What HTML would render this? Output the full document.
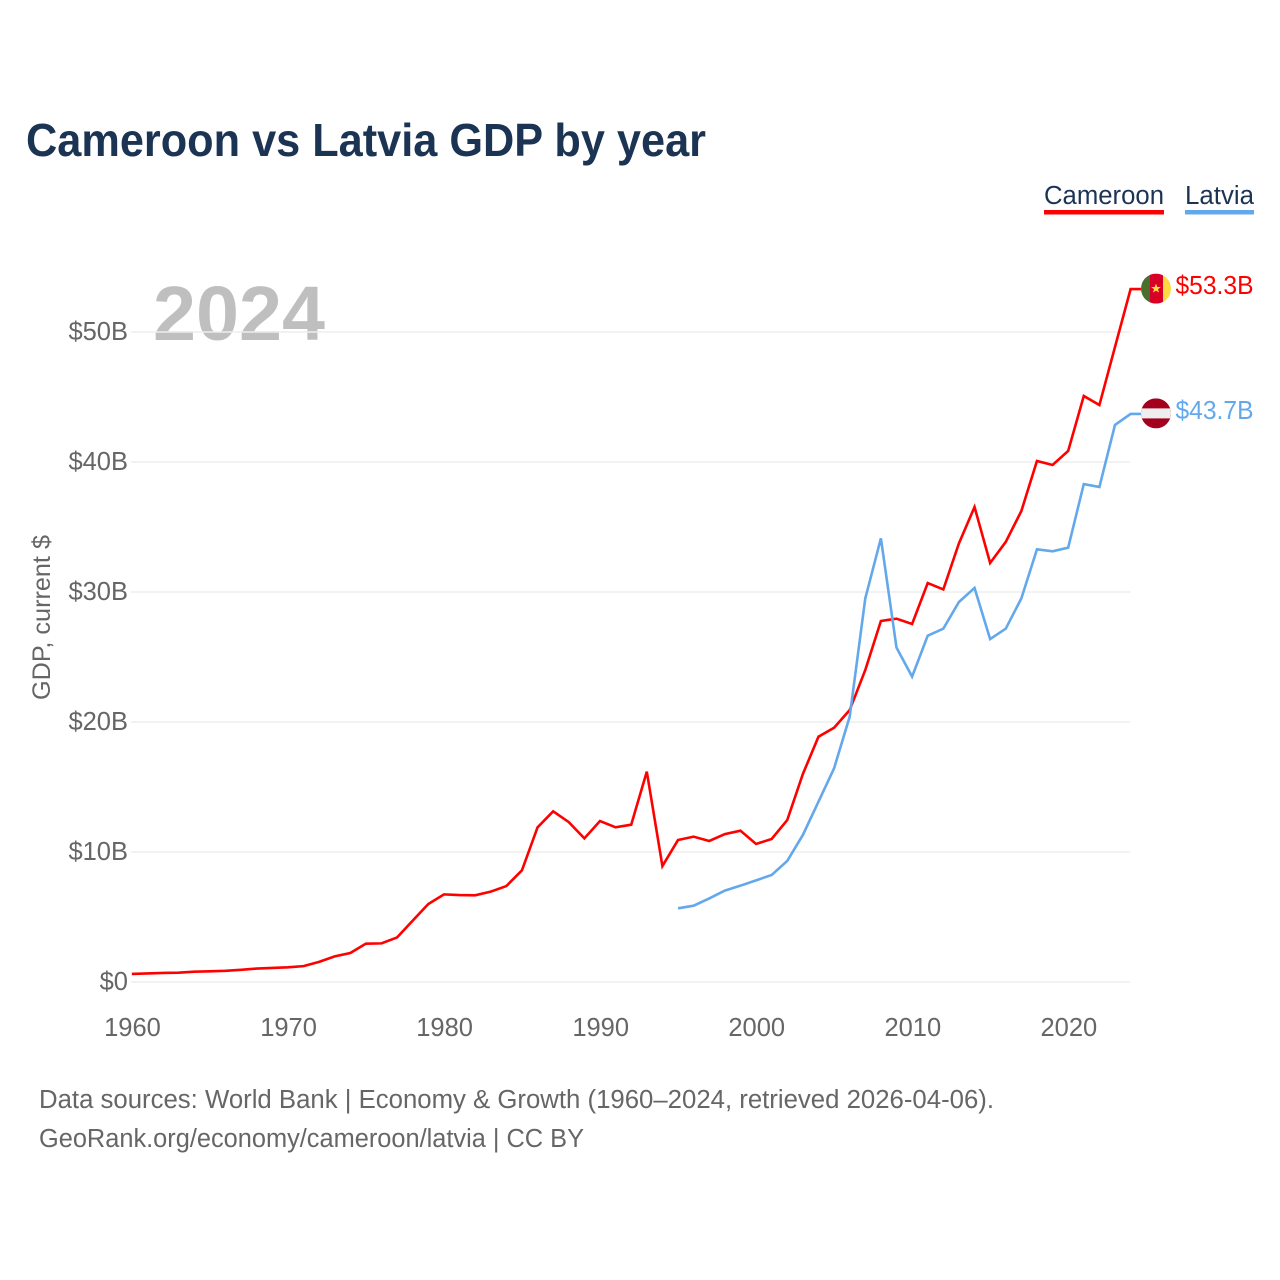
<!DOCTYPE html>
<html lang="en">
<head>
<meta charset="utf-8">
<title>Cameroon vs Latvia GDP by year</title>
<style>
  html, body { margin: 0; padding: 0; background: #fff; }
  svg { display: block; font-family: "Liberation Sans", sans-serif; }
</style>
</head>
<body>
<svg id="chart" xmlns="http://www.w3.org/2000/svg" width="1280" height="1280" viewBox="0 0 1280 1280">
  <rect x="0" y="0" width="1280" height="1280" fill="#fff"/>
  <text x="26" y="156" font-size="46" font-weight="700" fill="#1c3454" textLength="680" lengthAdjust="spacingAndGlyphs">Cameroon vs Latvia GDP by year</text>

  <g>
    <g>
      <text x="1044" y="204" font-size="25.5" fill="#1c3454" textLength="120" lengthAdjust="spacingAndGlyphs">Cameroon</text>
      <rect x="1044" y="210" width="120" height="4.5" fill="#ff0000"/>
    </g>
    <g>
      <text x="1185" y="204" font-size="25.5" fill="#1c3454" textLength="69" lengthAdjust="spacingAndGlyphs">Latvia</text>
      <rect x="1185" y="210" width="69" height="4.5" fill="#64a8ec"/>
    </g>
  </g>

  <text x="153" y="340" font-size="77" font-weight="700" fill="#000" fill-opacity="0.25" textLength="172" lengthAdjust="spacingAndGlyphs">2024</text>

  <g id="grid"></g>
  <g id="y-axis"></g>
  <g id="x-axis"></g>
  <text transform="translate(50,700) rotate(-90)" font-size="25" fill="#666" textLength="165" lengthAdjust="spacingAndGlyphs">GDP, current $</text>

  <g id="series"></g>

  <g id="flag-cameroon">
    <clipPath id="clip-cm"><circle cx="0" cy="0" r="15"/></clipPath>
    <g clip-path="url(#clip-cm)">
      <rect x="-15" y="-15" width="9" height="30" fill="#496e2d"/>
      <rect x="-6" y="-15" width="13" height="30" fill="#d80027"/>
      <rect x="7" y="-15" width="8" height="30" fill="#ffda44"/>
      <polygon points="0,-5 1.3,-1.6 4.8,-1.6 2,0.6 3,4 0,2 -3,4 -2,0.6 -4.8,-1.6 -1.3,-1.6" fill="#ffda44"/>
    </g>
  </g>
  <g id="flag-latvia">
    <clipPath id="clip-lv"><circle cx="0" cy="0" r="15"/></clipPath>
    <g clip-path="url(#clip-lv)">
      <rect x="-15" y="-15" width="30" height="30" fill="#a2001d"/>
      <rect x="-15" y="-5" width="30" height="10" fill="#eeeeee"/>
    </g>
  </g>
  <text id="end-label-cameroon" x="1175.5" font-size="25.5" fill="#ff0000" textLength="78" lengthAdjust="spacingAndGlyphs"></text>
  <text id="end-label-latvia" x="1175.5" font-size="25.5" fill="#64a8ec" textLength="78" lengthAdjust="spacingAndGlyphs"></text>

  <g>
    <text x="39" y="1108" font-size="25.5" fill="#666" textLength="955" lengthAdjust="spacingAndGlyphs">Data sources: World Bank | Economy &amp; Growth (1960–2024, retrieved 2026-04-06).</text>
    <text x="39" y="1147" font-size="25.5" fill="#666" textLength="545" lengthAdjust="spacingAndGlyphs">GeoRank.org/economy/cameroon/latvia | CC BY</text>
  </g>
</svg>

<script>
const years = [1960,1961,1962,1963,1964,1965,1966,1967,1968,1969,1970,1971,1972,1973,1974,1975,1976,1977,1978,1979,1980,1981,1982,1983,1984,1985,1986,1987,1988,1989,1990,1991,1992,1993,1994,1995,1996,1997,1998,1999,2000,2001,2002,2003,2004,2005,2006,2007,2008,2009,2010,2011,2012,2013,2014,2015,2016,2017,2018,2019,2020,2021,2022,2023,2024];
const cameroonGdp = [0.62,0.66,0.70,0.72,0.79,0.82,0.86,0.94,1.03,1.08,1.13,1.22,1.55,1.97,2.23,2.95,2.97,3.43,4.72,6.00,6.74,6.69,6.67,6.95,7.38,8.59,11.9,13.13,12.3,11.05,12.38,11.9,12.1,16.18,8.92,10.92,11.18,10.85,11.38,11.64,10.62,11.0,12.46,16.0,18.87,19.56,20.92,24.0,27.77,27.95,27.54,30.69,30.2,33.74,36.54,32.23,33.85,36.23,40.08,39.77,40.85,45.08,44.38,48.85,53.3];
const latviaGdp = [null,null,null,null,null,null,null,null,null,null,null,null,null,null,null,null,null,null,null,null,null,null,null,null,null,null,null,null,null,null,null,null,null,null,null,5.67,5.87,6.43,7.03,7.41,7.82,8.23,9.31,11.31,13.87,16.44,20.41,29.51,34.13,25.72,23.49,26.64,27.18,29.23,30.31,26.38,27.18,29.51,33.28,33.13,33.41,38.3,38.08,42.85,43.7];
const yTickValues = [0,10,20,30,40,50];
const yTickLabels = ["$0","$10B","$20B","$30B","$40B","$50B"];
const xTickValues = [1960,1970,1980,1990,2000,2010,2020];
const xTickLabels = ["1960","1970","1980","1990","2000","2010","2020"];

const SVG_NS = "http://www.w3.org/2000/svg";
function xScale(year) { return 131.8 + (year - 1960) * (1130.6 - 131.8) / 64; }
function yScale(value) { return 982 - value * 13; }

const gridGroup = document.getElementById("grid");
const yAxisGroup = document.getElementById("y-axis");
const xAxisGroup = document.getElementById("x-axis");
const seriesGroup = document.getElementById("series");

yTickValues.forEach(function (value, i) {
  const line = document.createElementNS(SVG_NS, "line");
  
  
  line.setAttribute("x1", xScale(1960) - 0.8);
  line.setAttribute("x2", xScale(2024));
  line.setAttribute("y1", yScale(value));
  line.setAttribute("y2", yScale(value));
  line.setAttribute("stroke", "#eeeeee");
  line.setAttribute("stroke-width", "1.5");
  gridGroup.appendChild(line);

  const label = document.createElementNS(SVG_NS, "text");
  
  
  label.setAttribute("x", 128);
  label.setAttribute("y", yScale(value) + 8);
  label.setAttribute("text-anchor", "end");
  label.setAttribute("font-size", "25.5");
  label.setAttribute("fill", "#666");
  label.textContent = yTickLabels[i];
  yAxisGroup.appendChild(label);
});

xTickValues.forEach(function (value, i) {
  const label = document.createElementNS(SVG_NS, "text");
  
  
  label.setAttribute("x", xScale(value) + 0.7);
  label.setAttribute("y", 1036);
  label.setAttribute("text-anchor", "middle");
  label.setAttribute("font-size", "25.5");
  label.setAttribute("fill", "#666");
  label.textContent = xTickLabels[i];
  xAxisGroup.appendChild(label);
});

function buildPoints(values) {
  const points = [];
  values.forEach(function (value, i) {
    if (value !== null) {
      points.push(xScale(years[i]).toFixed(2) + "," + yScale(value).toFixed(2));
    }
  });
  const last = values[values.length - 1];
  points.push("1141," + yScale(last).toFixed(2));
  return points.join(" ");
}

const cameroonLine = document.createElementNS(SVG_NS, "polyline");


cameroonLine.setAttribute("points", buildPoints(cameroonGdp));
cameroonLine.setAttribute("fill", "none");
cameroonLine.setAttribute("stroke", "#ff0000");
cameroonLine.setAttribute("stroke-width", "2.6");
seriesGroup.appendChild(cameroonLine);

const latviaLine = document.createElementNS(SVG_NS, "polyline");


latviaLine.setAttribute("points", buildPoints(latviaGdp));
latviaLine.setAttribute("fill", "none");
latviaLine.setAttribute("stroke", "#64a8ec");
latviaLine.setAttribute("stroke-width", "2.6");
seriesGroup.appendChild(latviaLine);

function formatBillions(value) { return "$" + value.toFixed(1) + "B"; }

const lastCameroon = cameroonGdp[cameroonGdp.length - 1];
const lastLatvia = latviaGdp[latviaGdp.length - 1];
document.getElementById("flag-cameroon").setAttribute("transform", "translate(1156," + (yScale(lastCameroon) - 0.5) + ")");
document.getElementById("flag-latvia").setAttribute("transform", "translate(1156," + (yScale(lastLatvia) - 0.5) + ")");
const endCameroon = document.getElementById("end-label-cameroon");
endCameroon.setAttribute("y", yScale(lastCameroon) + 5);
endCameroon.textContent = formatBillions(lastCameroon);
const endLatvia = document.getElementById("end-label-latvia");
endLatvia.setAttribute("y", yScale(lastLatvia) + 5);
endLatvia.textContent = formatBillions(lastLatvia);
</script>
</body>
</html>
